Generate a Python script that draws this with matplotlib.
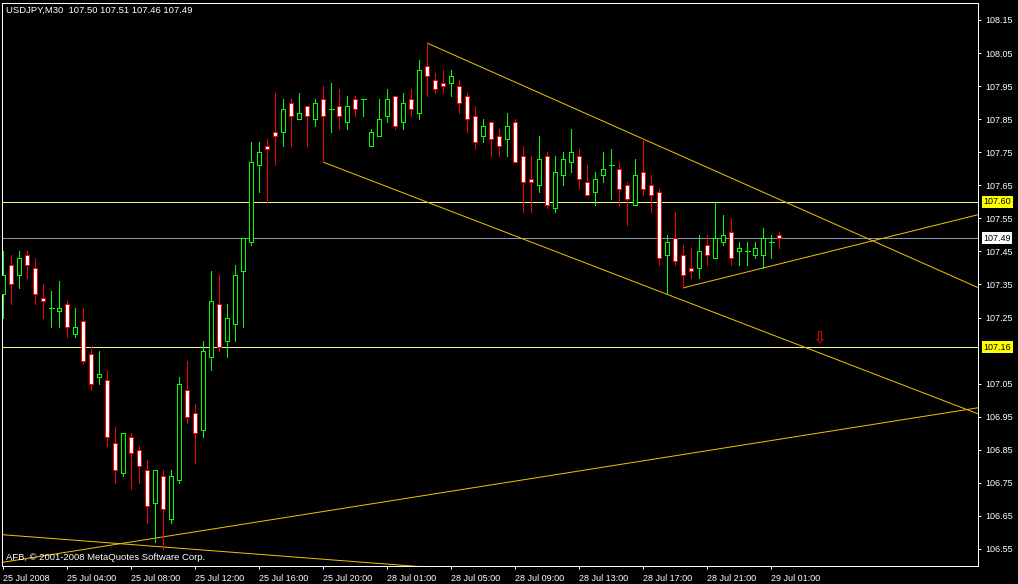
import matplotlib
matplotlib.use("Agg")
import matplotlib.pyplot as plt

# USDJPY M30 bars, 25 Jul 2008 00:00 .. 29 Jul 02:00
opens = [107.32, 107.41, 107.38, 107.44, 107.40, 107.31, 107.28, 107.27, 107.29, 107.20,
         107.24, 107.14, 107.07, 107.06, 106.87, 106.78, 106.89, 106.85, 106.79, 106.69,
         106.77, 106.64, 106.76, 107.03, 106.96, 106.91, 107.13, 107.29, 107.18, 107.23,
         107.39, 107.48, 107.71, 107.77, 107.81, 107.81, 107.90, 107.85, 107.89, 107.85,
         107.91, 107.88, 107.89, 107.84, 107.91, 107.91, 107.77, 107.80, 107.86, 107.92,
         107.84, 107.91, 107.87, 108.01, 107.97, 107.96, 107.96, 107.95, 107.92, 107.86,
         107.80, 107.84, 107.80, 107.79, 107.84, 107.74, 107.67, 107.65, 107.74, 107.58,
         107.68, 107.72, 107.74, 107.66, 107.63, 107.68, 107.71, 107.70, 107.65, 107.59,
         107.69, 107.65, 107.63, 107.44, 107.49, 107.44, 107.40, 107.40, 107.47, 107.43,
         107.48, 107.51, 107.45, 107.45, 107.44, 107.44, 107.48, 107.50]
highs = [107.45, 107.44, 107.45, 107.45, 107.43, 107.35, 107.33, 107.36, 107.30, 107.28,
         107.28, 107.16, 107.15, 107.09, 106.92, 106.90, 106.90, 106.86, 106.82, 106.79,
         106.79, 106.79, 107.07, 107.12, 106.99, 107.18, 107.39, 107.38, 107.29, 107.41,
         107.49, 107.78, 107.78, 107.79, 107.93, 107.91, 107.91, 107.93, 107.89, 107.91,
         107.95, 107.96, 107.94, 107.92, 107.92, 107.91, 107.82, 107.91, 107.94, 107.92,
         107.93, 107.94, 108.03, 108.08, 107.99, 108.00, 108.00, 107.97, 107.93, 107.89,
         107.85, 107.84, 107.82, 107.87, 107.85, 107.77, 107.74, 107.80, 107.75, 107.74,
         107.75, 107.82, 107.76, 107.71, 107.69, 107.75, 107.76, 107.72, 107.66, 107.73,
         107.79, 107.68, 107.64, 107.50, 107.57, 107.47, 107.46, 107.50, 107.50, 107.60,
         107.56, 107.55, 107.48, 107.48, 107.48, 107.52, 107.50, 107.51]
lows = [107.25, 107.29, 107.34, 107.37, 107.29, 107.25, 107.22, 107.22, 107.19, 107.19,
        107.11, 107.03, 107.05, 106.86, 106.75, 106.77, 106.73, 106.75, 106.63, 106.57,
        106.55, 106.63, 106.75, 106.93, 106.81, 106.89, 107.09, 107.15, 107.13, 107.18,
        107.22, 107.47, 107.63, 107.60, 107.71, 107.77, 107.77, 107.85, 107.77, 107.83,
        107.72, 107.81, 107.82, 107.82, 107.86, 107.86, 107.77, 107.80, 107.84, 107.82,
        107.82, 107.86, 107.85, 107.92, 107.93, 107.93, 107.92, 107.87, 107.81, 107.76,
        107.78, 107.74, 107.74, 107.74, 107.72, 107.57, 107.57, 107.63, 107.58, 107.57,
        107.65, 107.69, 107.64, 107.62, 107.59, 107.66, 107.61, 107.59, 107.53, 107.59,
        107.62, 107.57, 107.41, 107.32, 107.41, 107.34, 107.37, 107.37, 107.41, 107.43,
        107.47, 107.41, 107.41, 107.41, 107.43, 107.40, 107.43, 107.46]
closes = [107.38, 107.35, 107.43, 107.41, 107.32, 107.30, 107.28, 107.28, 107.22, 107.22,
          107.12, 107.05, 107.08, 106.89, 106.79, 106.90, 106.84, 106.80, 106.68, 106.79,
          106.67, 106.77, 107.05, 106.95, 106.90, 107.15, 107.30, 107.16, 107.25, 107.38,
          107.49, 107.72, 107.75, 107.76, 107.80, 107.88, 107.86, 107.87, 107.86, 107.90,
          107.86, 107.88, 107.86, 107.89, 107.88, 107.91, 107.81, 107.85, 107.91, 107.83,
          107.90, 107.88, 108.00, 107.98, 107.94, 107.95, 107.98, 107.90, 107.85, 107.78,
          107.83, 107.79, 107.77, 107.83, 107.72, 107.66, 107.66, 107.73, 107.59, 107.69,
          107.73, 107.75, 107.67, 107.62, 107.67, 107.70, 107.71, 107.64, 107.61, 107.68,
          107.64, 107.62, 107.43, 107.48, 107.42, 107.38, 107.39, 107.45, 107.44, 107.49,
          107.50, 107.43, 107.46, 107.45, 107.46, 107.49, 107.48, 107.49]

time_labels = ["25 Jul 2008", "25 Jul 04:00", "25 Jul 08:00", "25 Jul 12:00", "25 Jul 16:00",
               "25 Jul 20:00", "28 Jul 01:00", "28 Jul 05:00", "28 Jul 09:00", "28 Jul 13:00",
               "28 Jul 17:00", "28 Jul 21:00", "29 Jul 01:00"]
price_ticks = [106.55, 106.65, 106.75, 106.85, 106.95, 107.05, 107.25, 107.35,
               107.45, 107.55, 107.65, 107.75, 107.85, 107.95, 108.05, 108.15]

# trendlines: (bar1, price1, bar2, price2), rays go right from bar1
rays = [(53, 108.08, 80, 107.79), (40, 107.72, 83, 107.32), (85, 107.34, 95, 107.40)]
long_lines = [(0, 106.51, 60, 106.74), (0, 106.593, 40, 106.519)]
levels = [107.60, 107.16]
bid = 107.49
arrow_bar, arrow_price = 102, 107.19

W, H = 1018, 584
fig = plt.figure(figsize=(W / 100, H / 100), dpi=100, facecolor="black")
ax = fig.add_axes([2 / W, (H - 566) / H, 976 / W, 563 / H], facecolor="black")
ax.set_xlim(-0.16, 121.84)
ax.set_ylim(106.4985, 108.2014)

px = 0.72  # one pixel in points
gold = "#F0C000"
lvl = "#F8F880"

n = len(opens)
bars = list(range(n))
for i in bars:
    o, h, l, c = opens[i], highs[i], lows[i], closes[i]
    col = "#00FF00" if c >= o else "#FF0000"
    fill = "black" if c >= o else "white"
    ax.vlines(i, l, h, color=col, lw=px, zorder=3, antialiased=False)
    if abs(c - o) < 0.001:
        ax.hlines(o, i - 0.31, i + 0.31, color=col, lw=px, zorder=4, antialiased=False)
    else:
        ax.bar(i, abs(c - o), bottom=min(o, c), width=0.55, color=fill,
               edgecolor=col, linewidth=px, zorder=4, antialiased=False)

for x1, y1, x2, y2 in rays:
    k = (y2 - y1) / (x2 - x1)
    ax.plot([x1, 140], [y1, y1 + k * (140 - x1)], color=gold, lw=px, zorder=2)
for x1, y1, x2, y2 in long_lines:
    k = (y2 - y1) / (x2 - x1)
    ax.plot([-5, 140], [y1 + k * (-5 - x1), y1 + k * (140 - x1)], color=gold, lw=px, zorder=2)

for p in levels:
    ax.axhline(p, color=lvl, lw=px, zorder=1, antialiased=False)
ax.axhline(bid, color="#8898A8", lw=px, zorder=1, antialiased=False)

ax.text(arrow_bar, arrow_price, "\u21e9", color="#FF0000", fontsize=12,
        ha="center", va="center", zorder=5)

for s in ax.spines.values():
    s.set_color("white")
    s.set_linewidth(px)

ax.yaxis.tick_right()
ax.set_yticks(price_ticks)
ax.set_yticklabels(["%.2f" % p for p in price_ticks])
ax.set_xticks(list(range(0, n, 8)))
ax.set_xticklabels(time_labels, ha="left")
ax.tick_params(colors="white", labelcolor="white", labelsize=6.5, length=2.5, width=px)
ax.tick_params(axis="y", pad=3)
ax.tick_params(axis="x", pad=3)
for t in ax.get_xticklabels() + ax.get_yticklabels():
    t.set_fontfamily("Liberation Sans")

# highlighted price labels
for p, bg in [(107.60, "#FFFF00"), (bid, "white"), (107.16, "#FFFF00")]:
    ax.annotate("%.2f" % p, xy=(1, p), xycoords=("axes fraction", "data"),
                xytext=(4, 0), textcoords="offset points", va="center", ha="left",
                fontsize=6.5, family="Liberation Sans", color="black",
                bbox=dict(boxstyle="square,pad=0.15", fc=bg, ec="none"),
                annotation_clip=False)

fig.text(6 / W, 1 - 10 / H, "USDJPY,M30  107.50 107.51 107.46 107.49", color="white",
         fontsize=6.8, family="Liberation Sans", va="center")
fig.text(6 / W, 1 - 558 / H, "AFB, \u00a9 2001-2008 MetaQuotes Software Corp.", color="white",
         fontsize=6.8, family="Liberation Sans", va="center")

fig.savefig("out.png", dpi=100, facecolor="black")
